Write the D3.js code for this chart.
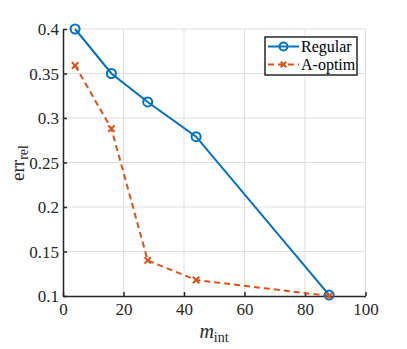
<!DOCTYPE html>
<html>
<head>
<meta charset="utf-8">
<script src="https://cdn.jsdelivr.net/npm/d3@7"></script>
<style>
  body { margin: 0; background: #fff; }
  svg { display: block; }
</style>
</head>
<body>
<div id="chart"></div>
<script>
// data
const mInt = [4, 16, 28, 44, 88];
const regular = [0.400, 0.350, 0.318, 0.279, 0.101];
const aOptim = [0.359, 0.288, 0.140, 0.118, 0.100];
const xTicks = [0, 20, 40, 60, 80, 100];
const yTicks = [0.1, 0.15, 0.2, 0.25, 0.3, 0.35, 0.4];

const W = 407, H = 349;
const blue = '#0072BD', orange = '#D95319', axisColor = '#262626';
const serif = 'Liberation Serif';

const svg = d3.select('#chart').append('svg')
    .attr('width', W).attr('height', H)
    .attr('font-family', serif);

const x = d3.scaleLinear().domain([0, 100]).range([63, 365.5]);
const y = d3.scaleLinear().domain([0.1, 0.4]).range([296, 29]);

// grid
svg.append('g').selectAll('line')
    .data(xTicks.slice(1))
    .join('line')
    .attr('x1', d => x(d)).attr('x2', d => x(d))
    .attr('y1', y(0.1)).attr('y2', y(0.4))
    .attr('stroke', '#dfdfdf').attr('stroke-width', 1);
svg.append('g').selectAll('line')
    .data(yTicks.slice(1))
    .join('line')
    .attr('x1', x(0)).attr('x2', x(100))
    .attr('y1', d => y(d)).attr('y2', d => y(d))
    .attr('stroke', '#dfdfdf').attr('stroke-width', 1);

// axes (inward ticks)
const xAxis = svg.append('g')
    .attr('transform', `translate(0,${y(0.1)})`)
    .call(d3.axisBottom(x).tickValues(xTicks).tickSizeInner(-4).tickSizeOuter(0).tickPadding(7));
const yAxis = svg.append('g')
    .attr('transform', `translate(${x(0)},0)`)
    .call(d3.axisLeft(y).tickValues(yTicks).tickFormat(d => String(+d.toFixed(2))).tickSizeInner(-4).tickSizeOuter(0).tickPadding(4));

[xAxis, yAxis].forEach(g => {
    g.attr('font-family', null).attr('font-size', null);
    g.select('.domain').attr('stroke', axisColor).attr('stroke-width', 1.5);
    g.selectAll('.tick line').attr('stroke', axisColor).attr('stroke-width', 1.5);
    g.selectAll('.tick text')
        .attr('fill', axisColor)
        .attr('font-family', serif)
        .attr('font-size', 17);
});
yAxis.selectAll('.tick text').attr('dy', '0.35em');

// axis labels
svg.append('text')
    .attr('x', 214).attr('y', 338)
    .attr('text-anchor', 'middle')
    .attr('fill', axisColor)
    .attr('font-family', serif)
    .attr('font-size', 20)
    .call(t => {
        t.append('tspan').attr('font-style', 'italic').text('m');
        t.append('tspan').attr('dy', 4).attr('font-size', 14).text('int');
    });

svg.append('text')
    .attr('transform', 'translate(24,163) rotate(-90)')
    .attr('text-anchor', 'middle')
    .attr('fill', axisColor)
    .attr('font-family', serif)
    .attr('font-size', 19)
    .call(t => {
        t.append('tspan').text('err');
        t.append('tspan').attr('dy', 4).attr('font-size', 14).text('rel');
    });

// series
const line = d3.line().x(d => x(d[0])).y(d => y(d[1]));
const regPts = mInt.map((m, i) => [m, regular[i]]);
const optPts = mInt.map((m, i) => [m, aOptim[i]]);

svg.append('path')
    .attr('d', line(optPts))
    .attr('fill', 'none').attr('stroke', orange)
    .attr('stroke-width', 2).attr('stroke-dasharray', '6,4');

svg.append('path')
    .attr('d', line(regPts))
    .attr('fill', 'none').attr('stroke', blue).attr('stroke-width', 2);

svg.append('g').selectAll('circle')
    .data(regPts)
    .join('circle')
    .attr('cx', d => x(d[0])).attr('cy', d => y(d[1]))
    .attr('r', 4.5)
    .attr('fill', 'none').attr('stroke', blue).attr('stroke-width', 2);

const cross = s => `M${-s},${-s}L${s},${s}M${-s},${s}L${s},${-s}`;
svg.append('g').selectAll('path')
    .data(optPts)
    .join('path')
    .attr('transform', d => `translate(${x(d[0])},${y(d[1])})`)
    .attr('d', cross(3.2))
    .attr('stroke', orange).attr('stroke-width', 2);

// legend
const legend = svg.append('g');
legend.append('rect')
    .attr('x', 265).attr('y', 37).attr('width', 92).attr('height', 38)
    .attr('fill', '#fff').attr('stroke', axisColor).attr('stroke-width', 1.5);

const legendItems = [
    { name: 'Regular', color: blue, dash: null, marker: 'circle' },
    { name: 'A-optim', color: orange, dash: '6,4', marker: 'cross' }
];
legendItems.forEach((d, i) => {
    const yy = 46.5 + i * 18;
    legend.append('line')
        .attr('x1', 268).attr('x2', 299).attr('y1', yy).attr('y2', yy)
        .attr('stroke', d.color).attr('stroke-width', 2)
        .attr('stroke-dasharray', d.dash);
    if (d.marker === 'circle') {
        legend.append('circle').attr('cx', 283.5).attr('cy', yy).attr('r', 4)
            .attr('fill', 'none').attr('stroke', d.color).attr('stroke-width', 2);
    } else {
        legend.append('path').attr('transform', `translate(283.5,${yy})`)
            .attr('d', cross(2.8)).attr('stroke', d.color).attr('stroke-width', 2);
    }
    legend.append('text')
        .attr('x', 301).attr('y', yy).attr('dy', '0.35em')
        .attr('fill', '#000')
        .attr('font-family', serif)
        .attr('font-size', 16)
        .text(d.name);
});
</script>
</body>
</html>
